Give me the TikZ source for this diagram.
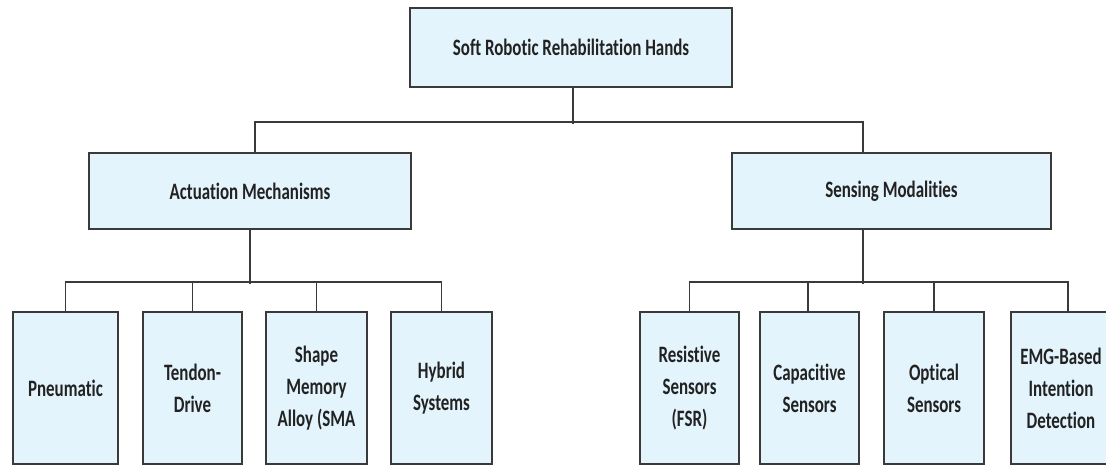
\documentclass[tikz,border=0pt]{standalone}
\usepackage{fontspec}
\setmainfont{Carlito}
\newfontfamily\labfont{Carlito}[FakeStretch=0.72, Ligatures=NoCommon]
\definecolor{boxfill}{HTML}{E4F4FC}
\definecolor{boxline}{HTML}{3A3A3A}
\definecolor{txt}{HTML}{222222}
\begin{document}
\begin{tikzpicture}[x=1pt,y=-1pt,
  box/.style={draw=boxline, line width=2pt, fill=boxfill, inner sep=0pt,
    align=center, text=txt, font=\labfont\bfseries\fontsize{23.5}{32}\selectfont},
  leaf/.style={box, minimum width=#1, minimum height=152pt},
  conn/.style={draw=boxline, line width=1.9pt}]
\useasboundingbox (0,0) rectangle (1106,468);
% boxes
\node[box, minimum width=322pt, minimum height=79pt] (top) at (571,47.5) {Soft Robotic Rehabilitation Hands};
\node[box, minimum width=322pt, minimum height=76pt] (act) at (250,191) {Actuation Mechanisms};
\node[box, minimum width=319pt, minimum height=76pt] (sens) at (891.5,191) {Sensing Modalities};
\node[leaf=105pt] (pn) at (65.5,388) {Pneumatic};
\node[leaf=99pt]  (td) at (192.5,388) {Tendon-\\Drive};
\node[leaf=101pt] (sh) at (316.5,388) {Shape\\Memory\\Alloy (SMA};
\node[leaf=101pt] (hy) at (441.5,388) {Hybrid\\Systems};
\node[leaf=99pt]  (rs) at (689.5,388) {Resistive\\Sensors\\(FSR)};
\node[leaf=99pt]  (cp) at (809.5,388) {Capacitive\\Sensors};
\node[leaf=100pt] (op) at (934,388) {Optical\\Sensors};
\node[leaf=100pt] (emg) at (1061,388) {EMG-Based\\Intention\\Detection};
% connectors
\draw[conn] ([xshift=2pt]top.south) -- ++(0,36);
\draw[conn] ([xshift=5pt]act.north) -- ++(0,-30) -| ([xshift=-28.5pt]sens.north);
\draw[conn] (act.south) -- ++(0,54);
\draw[conn] (pn.north) -- ++(0,-29) -| (hy.north);
\draw[conn] (td.north) -- ++(0,-29);
\draw[conn] (sh.north) -- ++(0,-29);
\draw[conn] ([xshift=-28.5pt]sens.south) -- ++(0,54);
\draw[conn] (rs.north) -- ++(0,-29) -| ([xshift=7pt]emg.north);
\draw[conn] ([xshift=-1.5pt]cp.north) -- ++(0,-29);
\draw[conn] (op.north) -- ++(0,-29);
\end{tikzpicture}
\end{document}
